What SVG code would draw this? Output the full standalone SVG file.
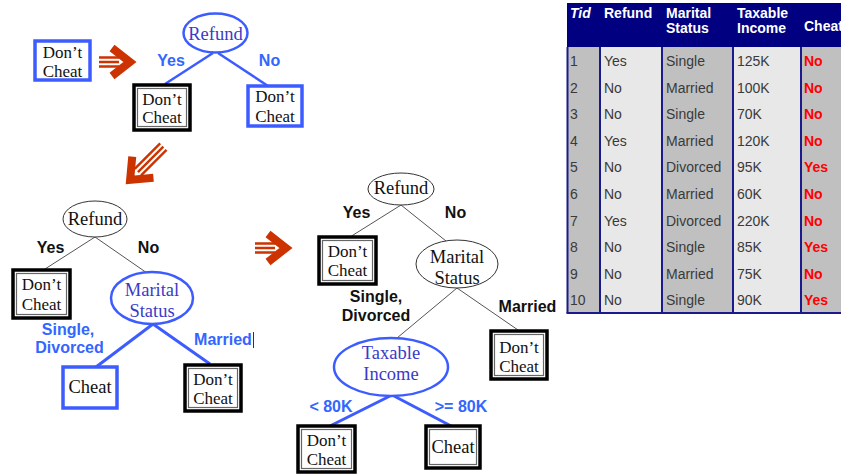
<svg xmlns="http://www.w3.org/2000/svg" width="841" height="474" viewBox="0 0 841 474">
<defs>
<style>
.bx{fill:#fff;stroke:#3d5cff;stroke-width:3.5}
.dbo{fill:#fff;stroke:#000;stroke-width:3.5}
.dbi{fill:none;stroke:#666;stroke-width:1.2}
.eb{fill:#fff;stroke:#3d5cff;stroke-width:2.5}
.ek{fill:#fff;stroke:#333;stroke-width:1}
.nt{font-family:"Liberation Serif","Times New Roman",serif;font-size:17px;fill:#111;text-anchor:middle}
.ntl{font-family:"Liberation Serif","Times New Roman",serif;font-size:18.5px;fill:#111;text-anchor:middle}
.ntb{font-family:"Liberation Serif","Times New Roman",serif;font-size:18.5px;fill:#3a3ac8;text-anchor:middle}
.lb{font-family:"Liberation Sans",Arial,sans-serif;font-size:16px;font-weight:bold;fill:#3366ff;text-anchor:middle}
.lk{font-family:"Liberation Sans",Arial,sans-serif;font-size:16px;font-weight:bold;fill:#111;text-anchor:middle}
.cb{stroke:#3d5cff;stroke-width:3;fill:none}
.ck{stroke:#555;stroke-width:1;fill:none}
.th{font-family:"Liberation Sans",Arial,sans-serif;font-size:14px;font-weight:bold;fill:#fff}
.td{font-family:"Liberation Sans",Arial,sans-serif;font-size:14px;fill:#3a3a3a}
.tr{font-family:"Liberation Sans",Arial,sans-serif;font-size:14px;font-weight:bold;fill:#ff0000}
.sep{stroke:#1a1a8c;stroke-width:2}
.ash{stroke:#cc3300;stroke-width:2.4;fill:none}
.ahd{stroke:#cc3300;stroke-width:8;fill:none;stroke-linejoin:miter;stroke-miterlimit:4}
</style>
<g id="arrowShape">
<path class="ash" d="M-34,-4.5 H-14 M-34,0 H-14 M-34,4.5 H-14"/>
<polyline class="ahd" points="-21,-14 -3,0 -21,14"/>
</g>
<g id="arrowLong">
<path class="ash" d="M-50,-4.5 H-14 M-50,0 H-14 M-50,4.5 H-14"/>
<polyline class="ahd" points="-21,-15 -3,0 -21,15"/>
</g>
</defs>
<rect width="841" height="474" fill="#fff"/>

<g id="connectors">
<line class="cb" x1="213" y1="53" x2="165" y2="84" style="stroke-width:2.5"/>
<line class="cb" x1="218" y1="53" x2="268" y2="86" style="stroke-width:2.5"/>
<line class="ck" x1="95" y1="237" x2="45" y2="269"/>
<line class="ck" x1="95" y1="237" x2="147" y2="273"/>
<line class="cb" x1="153" y1="324" x2="96" y2="367"/>
<line class="cb" x1="153" y1="324" x2="210" y2="364"/>
<line class="ck" x1="401" y1="205" x2="350" y2="237"/>
<line class="ck" x1="401" y1="205" x2="446" y2="241"/>
<line class="ck" x1="457" y1="288" x2="397" y2="338"/>
<line class="ck" x1="457" y1="288" x2="518" y2="330"/>
<line class="cb" x1="390" y1="396" x2="328" y2="427"/>
<line class="cb" x1="394" y1="396" x2="453" y2="427"/>
</g>

<g id="arrows">
<use href="#arrowShape" transform="translate(133,62)"/>
<use href="#arrowLong" transform="translate(128,182) rotate(135)"/>
<use href="#arrowShape" transform="translate(289,248)"/>
</g>

<g id="start-leaf">
<rect class="bx" x="35" y="41" width="55" height="39"/>
<text class="nt" x="62.5" y="58">Don’t</text>
<text class="nt" x="62.5" y="77">Cheat</text>
</g>

<g id="t1-refund">
<ellipse class="eb" cx="215.5" cy="33" rx="32" ry="19.5"/>
<text class="ntb" x="215.5" y="40">Refund</text>
</g>
<g id="t1-labels">
<text class="lb" x="171" y="66">Yes</text>
<text class="lb" x="269.5" y="66">No</text>
</g>
<g id="t1-yes-leaf">
<rect class="dbo" x="134" y="85" width="56" height="45"/>
<rect class="dbi" x="137.5" y="88.5" width="49" height="38"/>
<text class="nt" x="162" y="104.5">Don’t</text>
<text class="nt" x="162" y="123">Cheat</text>
</g>
<g id="t1-no-leaf">
<rect class="bx" x="248" y="86" width="54" height="40"/>
<text class="nt" x="275" y="102">Don’t</text>
<text class="nt" x="275" y="122">Cheat</text>
</g>

<g id="t2-refund">
<ellipse class="ek" cx="95" cy="219" rx="32" ry="18"/>
<text class="ntl" x="95" y="225">Refund</text>
</g>
<g id="t2-labels">
<text class="lk" x="50.5" y="253">Yes</text>
<text class="lk" x="148.5" y="253">No</text>
<text class="lb" x="68" y="335">Single,</text>
<text class="lb" x="69.5" y="353">Divorced</text>
<text class="lb" x="223" y="345">Married</text>
<line x1="253.5" y1="332" x2="253.5" y2="348" stroke="#333" stroke-width="1"/>
</g>
<g id="t2-yes-leaf">
<rect class="dbo" x="13" y="270" width="57" height="48"/>
<rect class="dbi" x="16.5" y="273.5" width="50" height="41"/>
<text class="nt" x="41.5" y="290">Don’t</text>
<text class="nt" x="41.5" y="310">Cheat</text>
</g>
<g id="t2-marital">
<ellipse class="eb" cx="152" cy="298" rx="41" ry="26"/>
<text class="ntb" x="152" y="296">Marital</text>
<text class="ntb" x="152" y="317">Status</text>
</g>
<g id="t2-cheat-leaf">
<rect class="bx" x="63" y="367" width="54" height="41"/>
<text class="ntl" x="90" y="393">Cheat</text>
</g>
<g id="t2-married-leaf">
<rect class="dbo" x="185" y="365" width="56" height="46"/>
<rect class="dbi" x="188.5" y="368.5" width="49" height="39"/>
<text class="nt" x="213" y="385">Don’t</text>
<text class="nt" x="213" y="404">Cheat</text>
</g>

<g id="t3-refund">
<ellipse class="ek" cx="401" cy="189" rx="33" ry="16"/>
<text class="ntl" x="401" y="194">Refund</text>
</g>
<g id="t3-labels">
<text class="lk" x="356.5" y="218">Yes</text>
<text class="lk" x="455.5" y="218">No</text>
<text class="lk" x="376" y="302">Single,</text>
<text class="lk" x="376" y="321">Divorced</text>
<text class="lk" x="527.5" y="312">Married</text>
<text class="lb" x="331" y="412">&lt; 80K</text>
<text class="lb" x="461" y="412">&gt;= 80K</text>
</g>
<g id="t3-yes-leaf">
<rect class="dbo" x="319" y="237" width="57" height="47"/>
<rect class="dbi" x="322.5" y="240.5" width="50" height="40"/>
<text class="nt" x="347.5" y="257">Don’t</text>
<text class="nt" x="347.5" y="276">Cheat</text>
</g>
<g id="t3-marital">
<ellipse class="ek" cx="457" cy="264" rx="41" ry="24"/>
<text class="ntl" x="457" y="263">Marital</text>
<text class="ntl" x="457" y="284">Status</text>
</g>
<g id="t3-married-leaf">
<rect class="dbo" x="491" y="331" width="56" height="48"/>
<rect class="dbi" x="494.5" y="334.5" width="49" height="41"/>
<text class="nt" x="519" y="353">Don’t</text>
<text class="nt" x="519" y="372">Cheat</text>
</g>
<g id="t3-income">
<ellipse class="eb" cx="391" cy="367" rx="57" ry="29"/>
<text class="ntb" x="391" y="359">Taxable</text>
<text class="ntb" x="391" y="380">Income</text>
</g>
<g id="t3-low-leaf">
<rect class="dbo" x="298" y="426" width="57" height="46"/>
<rect class="dbi" x="301.5" y="429.5" width="50" height="39"/>
<text class="nt" x="326.5" y="446">Don’t</text>
<text class="nt" x="326.5" y="465">Cheat</text>
</g>
<g id="t3-high-leaf">
<rect class="dbo" x="426" y="426" width="54" height="42"/>
<rect class="dbi" x="429.5" y="429.5" width="47" height="35"/>
<text class="ntl" x="453" y="453">Cheat</text>
</g>

<g id="table">
<rect x="567" y="3" width="274" height="44" fill="#000080"/>
<rect x="567" y="47" width="33" height="266" fill="#c0c0c0"/>
<rect x="600" y="47" width="62" height="266" fill="#e8e8e8"/>
<rect x="662" y="47" width="71" height="266" fill="#c0c0c0"/>
<rect x="733" y="47" width="68" height="266" fill="#e8e8e8"/>
<rect x="801" y="47" width="40" height="266" fill="#c0c0c0"/>
<line class="sep" x1="567.5" y1="47" x2="567.5" y2="313"/>
<line class="sep" x1="600" y1="47" x2="600" y2="313"/>
<line class="sep" x1="662" y1="47" x2="662" y2="313"/>
<line class="sep" x1="733" y1="47" x2="733" y2="313"/>
<line class="sep" x1="801" y1="47" x2="801" y2="313"/>
<line class="sep" x1="566.5" y1="313" x2="841" y2="313"/>
<text class="th" x="570" y="18" font-style="italic">Tid</text>
<text class="th" x="604" y="18">Refund</text>
<text class="th" x="666" y="18">Marital</text>
<text class="th" x="666" y="33">Status</text>
<text class="th" x="737" y="18">Taxable</text>
<text class="th" x="737" y="33">Income</text>
<text class="th" x="804" y="31">Cheat</text>

<g class="td">
<text x="570" y="66">1</text><text x="604" y="66">Yes</text><text x="666" y="66">Single</text><text x="737" y="66">125K</text>
<text x="570" y="92.6">2</text><text x="604" y="92.6">No</text><text x="666" y="92.6">Married</text><text x="737" y="92.6">100K</text>
<text x="570" y="119.2">3</text><text x="604" y="119.2">No</text><text x="666" y="119.2">Single</text><text x="737" y="119.2">70K</text>
<text x="570" y="145.8">4</text><text x="604" y="145.8">Yes</text><text x="666" y="145.8">Married</text><text x="737" y="145.8">120K</text>
<text x="570" y="172.4">5</text><text x="604" y="172.4">No</text><text x="666" y="172.4">Divorced</text><text x="737" y="172.4">95K</text>
<text x="570" y="199">6</text><text x="604" y="199">No</text><text x="666" y="199">Married</text><text x="737" y="199">60K</text>
<text x="570" y="225.6">7</text><text x="604" y="225.6">Yes</text><text x="666" y="225.6">Divorced</text><text x="737" y="225.6">220K</text>
<text x="570" y="252.2">8</text><text x="604" y="252.2">No</text><text x="666" y="252.2">Single</text><text x="737" y="252.2">85K</text>
<text x="570" y="278.8">9</text><text x="604" y="278.8">No</text><text x="666" y="278.8">Married</text><text x="737" y="278.8">75K</text>
<text x="570" y="305.4">10</text><text x="604" y="305.4">No</text><text x="666" y="305.4">Single</text><text x="737" y="305.4">90K</text>
</g>
<g class="tr">
<text x="804" y="66">No</text>
<text x="804" y="92.6">No</text>
<text x="804" y="119.2">No</text>
<text x="804" y="145.8">No</text>
<text x="804" y="172.4">Yes</text>
<text x="804" y="199">No</text>
<text x="804" y="225.6">No</text>
<text x="804" y="252.2">Yes</text>
<text x="804" y="278.8">No</text>
<text x="804" y="305.4">Yes</text>
</g>
</g>
</svg>
